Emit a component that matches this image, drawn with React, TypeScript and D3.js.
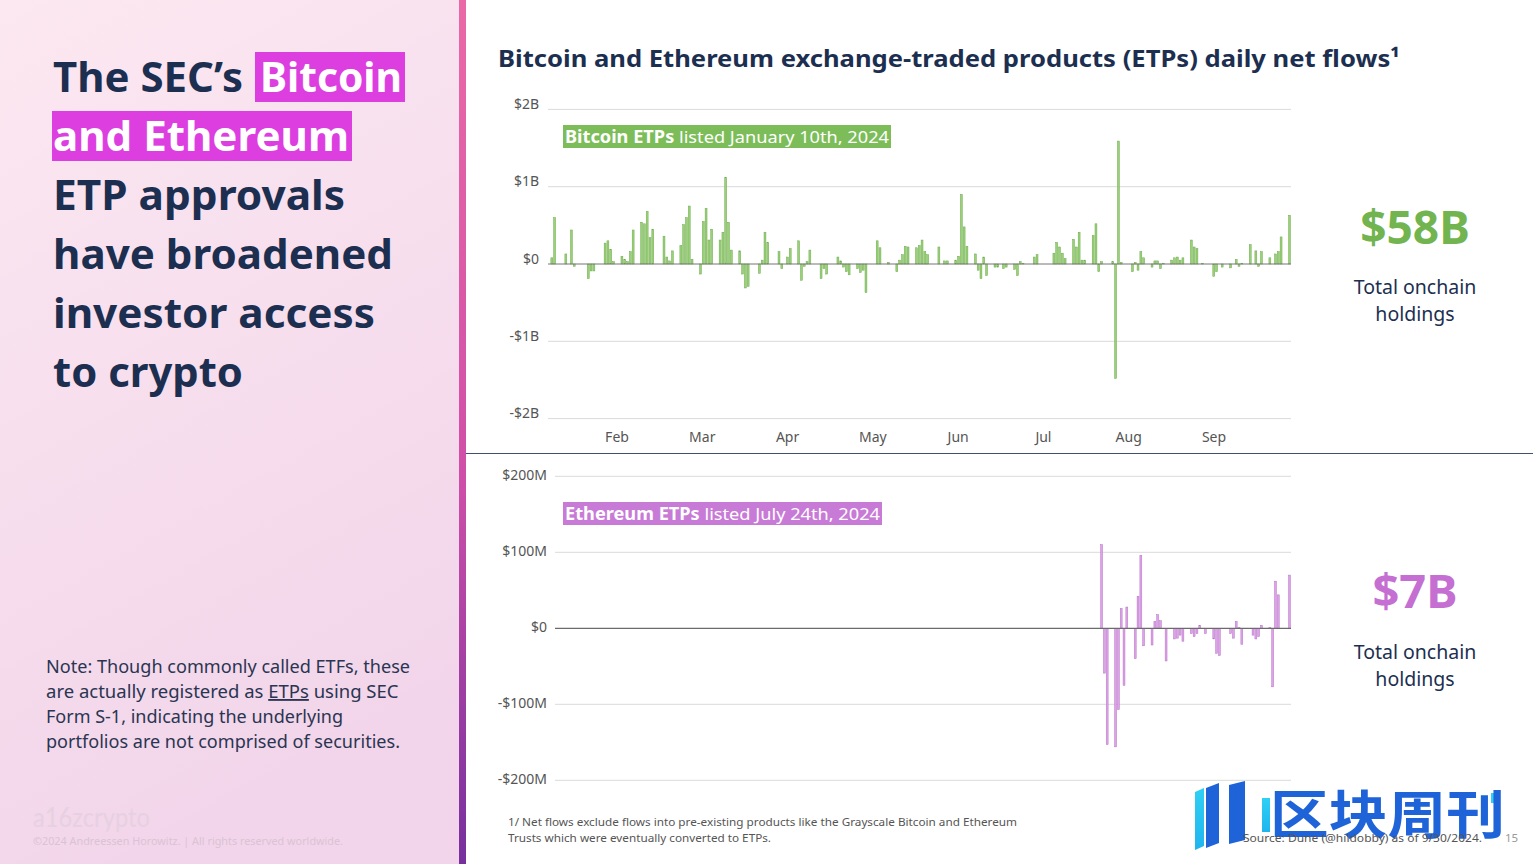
import React from "react";
import * as d3 from "d3";

// ---------- DATA ----------
const btcDates = [
  "2024-01-11","2024-01-12","2024-01-16","2024-01-18","2024-01-19","2024-01-24","2024-01-25","2024-01-26","2024-01-30","2024-01-31",
  "2024-02-01","2024-02-02","2024-02-05","2024-02-06","2024-02-07","2024-02-08","2024-02-09","2024-02-12","2024-02-13","2024-02-14",
  "2024-02-15","2024-02-16","2024-02-20","2024-02-21","2024-02-22","2024-02-23","2024-02-26","2024-02-27","2024-02-28","2024-02-29",
  "2024-03-01","2024-03-04","2024-03-05","2024-03-06","2024-03-07","2024-03-08","2024-03-11","2024-03-12","2024-03-13","2024-03-14",
  "2024-03-15","2024-03-18","2024-03-19","2024-03-20","2024-03-21","2024-03-25","2024-03-26","2024-03-27","2024-03-28","2024-04-01",
  "2024-04-02","2024-04-04","2024-04-05","2024-04-08","2024-04-09","2024-04-10","2024-04-11","2024-04-12","2024-04-16","2024-04-17",
  "2024-04-18","2024-04-22","2024-04-23","2024-04-24","2024-04-25","2024-04-26","2024-04-29","2024-04-30","2024-05-01","2024-05-02",
  "2024-05-06","2024-05-07","2024-05-10","2024-05-13","2024-05-14","2024-05-15","2024-05-16","2024-05-17","2024-05-20","2024-05-21",
  "2024-05-22","2024-05-23","2024-05-24","2024-05-28","2024-05-30","2024-05-31","2024-06-03","2024-06-04","2024-06-05","2024-06-06",
  "2024-06-07","2024-06-10","2024-06-11","2024-06-12","2024-06-13","2024-06-14","2024-06-17","2024-06-18","2024-06-20","2024-06-21",
  "2024-06-24","2024-06-25","2024-06-26","2024-06-27","2024-07-01","2024-07-02","2024-07-08","2024-07-09","2024-07-10","2024-07-11",
  "2024-07-12","2024-07-15","2024-07-16","2024-07-17","2024-07-18","2024-07-19","2024-07-22","2024-07-23","2024-07-24","2024-07-25",
  "2024-07-29","2024-07-30","2024-07-31","2024-08-01","2024-08-05","2024-08-06","2024-08-07","2024-08-08","2024-08-09","2024-08-12",
  "2024-08-13","2024-08-14","2024-08-15","2024-08-16","2024-08-19","2024-08-20","2024-08-21","2024-08-22","2024-08-23","2024-08-26",
  "2024-08-27","2024-08-28","2024-08-30","2024-09-03","2024-09-04","2024-09-06","2024-09-09","2024-09-11","2024-09-12","2024-09-13",
  "2024-09-16","2024-09-18","2024-09-19","2024-09-20","2024-09-23","2024-09-25","2024-09-26","2024-09-27","2024-09-30",
];
// $ billions
const btcFlows = [
  0.08,0.60,0.13,0.44,-0.03,-0.19,-0.09,-0.09,0.27,0.30,
  0.19,0.03,0.10,0.06,0.03,0.16,0.44,0.54,0.52,0.68,
  0.34,0.45,0.36,0.09,0.04,0.17,0.24,0.51,0.60,0.75,
  0.06,-0.13,0.55,0.72,0.31,0.45,0.31,0.41,1.12,0.54,
  0.18,0.17,-0.13,-0.31,-0.29,-0.12,0.05,0.41,0.28,0.16,
  -0.06,0.09,0.20,0.30,-0.21,-0.03,0.03,0.18,-0.19,-0.06,
  -0.13,0.09,0.04,-0.04,-0.10,-0.14,-0.06,-0.11,-0.08,-0.37,
  0.30,0.21,0.02,-0.10,0.05,0.12,0.23,0.22,0.21,0.24,
  0.31,0.16,0.12,0.22,0.04,0.04,0.05,0.10,0.90,0.48,
  0.23,0.13,-0.08,-0.19,0.09,-0.15,-0.04,-0.04,-0.06,-0.04,
  -0.07,-0.15,0.03,0.01,0.09,0.12,0.14,0.28,0.22,0.14,
  0.07,0.32,0.22,0.41,0.05,0.05,0.37,0.52,-0.10,0.03,
  0.03,-1.48,1.59,0.02,-0.10,0.02,-0.08,0.16,0.08,-0.04,
  0.04,0.04,-0.06,0.01,0.05,0.08,0.09,0.05,0.08,0.31,
  0.22,0.20,0.01,-0.16,-0.10,-0.04,-0.05,0.06,-0.03,0.01,
  0.25,0.17,-0.03,0.16,0.08,0.13,0.16,0.35,0.63,
];

const ethDates = [
  "2024-07-25","2024-07-26","2024-07-27","2024-07-30","2024-07-31","2024-08-01","2024-08-02","2024-08-03","2024-08-06","2024-08-07",
  "2024-08-08","2024-08-09","2024-08-12","2024-08-13","2024-08-14","2024-08-15","2024-08-17","2024-08-20","2024-08-21","2024-08-22",
  "2024-08-23","2024-08-26","2024-08-27","2024-08-28","2024-08-29","2024-08-31","2024-09-03","2024-09-04","2024-09-05","2024-09-09",
  "2024-09-10","2024-09-11","2024-09-12","2024-09-13","2024-09-17","2024-09-18","2024-09-19","2024-09-20","2024-09-23","2024-09-24",
  "2024-09-25","2024-09-26","2024-09-30",
];
// $ millions
const ethFlows = [
  110,-59,-153,-156,-107,26,-75,28,-40,42,
  96,-23,-22,9,18,10,-43,-14,-13,-9,
  -17,-7,-11,-7,4,-7,-14,-33,-36,-7,
  -13,9,1,-21,-9,-14,-11,4,1,-77,
  62,44,70,
];

const btcTicks = [2, 1, 0, -1, -2];
const btcTickLabels = ["$2B", "$1B", "$0", "-$1B", "-$2B"];
const ethTicks = [200, 100, 0, -100, -200];
const ethTickLabels = ["$200M", "$100M", "$0", "-$100M", "-$200M"];

const titleLines = ["ETP approvals", "have broadened", "investor access", "to crypto"];
const noteLines = [
  "Note: Though commonly called ETFs, these",
  "are actually registered as ",
  "Form S-1, indicating the underlying",
  "portfolios are not comprised of securities.",
];

// ---------- COLORS ----------
const NAVY = "#1c2f50";
const GREEN = "#7cbd59";
const PURPLE = "#c77bd6";
const FONT = "'Noto Sans', 'Open Sans', sans-serif";

export default function App() {
  const parse = d3.utcParse("%Y-%m-%d");
  const x = d3
    .scaleUtc()
    .domain([new Date(Date.UTC(2024, 0, 10)), new Date(Date.UTC(2024, 8, 30))])
    .range([549, 1289.5]);
  const yB = d3.scaleLinear().domain([-2, 2]).range([418.6, 109.4]);
  const yE = d3.scaleLinear().domain([-200, 200]).range([780.3, 476.3]);
  const months = d3.utcMonth.range(new Date(Date.UTC(2024, 1, 1)), new Date(Date.UTC(2024, 9, 1)));
  const fmtMonth = d3.utcFormat("%b");
  const monthPos = d3.scalePoint<string>().domain(months.map((m) => fmtMonth(m))).range([617, 1214]);

  const btc = btcDates.map((d, i) => ({ date: parse(d)!, v: btcFlows[i] }));
  const eth = ethDates.map((d, i) => ({ date: parse(d)!, v: ethFlows[i] }));
  const bw = 1.9;

  return (
    <svg
      width={1536}
      height={864}
      viewBox="0 0 1536 864"
      style={{ position: "absolute", left: 0, top: 0, background: "#fff" }}
      fontFamily={FONT}
    >
      <defs>
        <linearGradient id="leftBg" x1="0" y1="0" x2="0.3" y2="1">
          <stop offset="0" stopColor="#fce8f1" />
          <stop offset="1" stopColor="#f2d5ea" />
        </linearGradient>
        <linearGradient id="sideBar" x1="0" y1="0" x2="0" y2="1">
          <stop offset="0" stopColor="#ea6aa6" />
          <stop offset="0.55" stopColor="#cf4fa8" />
          <stop offset="1" stopColor="#76309e" />
        </linearGradient>
        <linearGradient id="wmCyan" x1="0" y1="0" x2="0" y2="1">
          <stop offset="0" stopColor="#2fd0f5" />
          <stop offset="1" stopColor="#1fb5ee" />
        </linearGradient>
      </defs>

      {/* ---------- LEFT PANEL ---------- */}
      <rect x={0} y={0} width={459} height={864} fill="url(#leftBg)" />
      <rect x={459} y={0} width={7} height={864} fill="url(#sideBar)" />

      <rect x={255} y={52} width={150} height={50} fill="#dc3ee0" />
      <rect x={52} y={111} width={300} height={50} fill="#dc3ee0" />
      <g fontWeight={700} fontSize={42}>
        <text x={53} y={92} fill={NAVY} textLength={190} lengthAdjust="spacingAndGlyphs">The SEC’s</text>
        <text x={260} y={92} fill="#fff" textLength={142} lengthAdjust="spacingAndGlyphs">Bitcoin</text>
        <text x={53} y={151} fill="#fff" textLength={296} lengthAdjust="spacingAndGlyphs">and Ethereum</text>
        {titleLines.map((t, i) => (
          <text
            key={t}
            x={53}
            y={210 + i * 59}
            fill={NAVY}
            textLength={[292, 340, 322, 190][i]}
            lengthAdjust="spacingAndGlyphs"
          >
            {t}
          </text>
        ))}
      </g>

      <g fontSize={18.5} fill="#2a3552">
        <text x={46} y={673} textLength={364} lengthAdjust="spacingAndGlyphs">{noteLines[0]}</text>
        <text x={46} y={698}>
          <tspan>{noteLines[1]}</tspan>
          <tspan textDecoration="underline">ETPs</tspan>
          <tspan> using SEC</tspan>
        </text>
        <text x={46} y={723} textLength={297} lengthAdjust="spacingAndGlyphs">{noteLines[2]}</text>
        <text x={46} y={748} textLength={354} lengthAdjust="spacingAndGlyphs">{noteLines[3]}</text>
      </g>

      <text x={33} y={827} fontSize={26} fill="#e7d1e0" fontFamily="'Lato', sans-serif" textLength={117} lengthAdjust="spacingAndGlyphs">a16zcrypto</text>
      <text x={33} y={845} fontSize={10.5} fill="#dac3d4" textLength={310} lengthAdjust="spacingAndGlyphs">
        ©2024 Andreessen Horowitz.  |  All rights reserved worldwide.
      </text>

      {/* ---------- TITLE ---------- */}
      <text x={498} y={67} fontSize={24} fontWeight={700} fill={NAVY} textLength={902} lengthAdjust="spacingAndGlyphs">
        Bitcoin and Ethereum exchange-traded products (ETPs) daily net flows¹
      </text>

      {/* ---------- TOP CHART (BTC) ---------- */}
      <g>
        {btcTicks.map((t, i) => (
          <g key={t}>
            {t !== 0 && <line x1={548} x2={1291} y1={yB(t)} y2={yB(t)} stroke="#dadada" strokeWidth={1} />}
            <text x={539} y={yB(t) - 4} textAnchor="end" dominantBaseline="middle" fontSize={14} fill="#555">
              {btcTickLabels[i]}
            </text>
          </g>
        ))}
        {btc.map((d, i) => (
          <rect
            key={i}
            x={x(d.date) - bw / 2}
            y={Math.min(yB(d.v), yB(0))}
            width={bw}
            height={Math.max(0.6, Math.abs(yB(d.v) - yB(0)))}
            fill="#9bd07a"
            stroke="#6cab4b"
            strokeWidth={0.5}
          />
        ))}
        <line x1={548} x2={1291} y1={yB(0)} y2={yB(0)} stroke="#777" strokeWidth={1.2} />
        {months.map((m) => (
          <text key={m.toISOString()} x={monthPos(fmtMonth(m))} y={442} textAnchor="middle" fontSize={14} fill="#555">
            {fmtMonth(m)}
          </text>
        ))}

        <rect x={563} y={125} width={328} height={23} fill={GREEN} />
        <text x={565} y={142.5} fontSize={17} fill="#fff" textLength={324} lengthAdjust="spacingAndGlyphs">
          <tspan fontWeight={700}>Bitcoin ETPs</tspan>
          <tspan> listed January 10th, 2024</tspan>
        </text>

        <text x={1415} y={244} textAnchor="middle" fontSize={46} fontWeight={700} fill="#72b450">$58B</text>
        <text x={1415} y={294} textAnchor="middle" fontSize={19.5} fill={NAVY}>Total onchain</text>
        <text x={1415} y={321} textAnchor="middle" fontSize={19.5} fill={NAVY}>holdings</text>
      </g>

      {/* divider */}
      <line x1={466} x2={1533} y1={453.5} y2={453.5} stroke="#3f5070" strokeWidth={1} />

      {/* ---------- BOTTOM CHART (ETH) ---------- */}
      <g>
        {ethTicks.map((t, i) => (
          <g key={t}>
            {t !== 0 && <line x1={555} x2={1291} y1={yE(t)} y2={yE(t)} stroke="#dadada" strokeWidth={1} />}
            <text x={547} y={yE(t)} textAnchor="end" dominantBaseline="middle" fontSize={14} fill="#555">
              {ethTickLabels[i]}
            </text>
          </g>
        ))}
        {eth.map((d, i) => (
          <rect
            key={i}
            x={x(d.date) - bw / 2}
            y={Math.min(yE(d.v), yE(0))}
            width={bw}
            height={Math.max(0.6, Math.abs(yE(d.v) - yE(0)))}
            fill="#dca3e6"
            stroke="#b772c8"
            strokeWidth={0.5}
          />
        ))}
        <line x1={555} x2={1291} y1={yE(0)} y2={yE(0)} stroke="#6b6b6b" strokeWidth={1.2} />

        <rect x={563} y={502} width={319} height={23} fill={PURPLE} />
        <text x={565} y={519.5} fontSize={17} fill="#fff" textLength={315} lengthAdjust="spacingAndGlyphs">
          <tspan fontWeight={700}>Ethereum ETPs</tspan>
          <tspan> listed July 24th, 2024</tspan>
        </text>

        <text x={1415} y={608} textAnchor="middle" fontSize={47} fontWeight={700} fill="#c46fd1">$7B</text>
        <text x={1415} y={659} textAnchor="middle" fontSize={19.5} fill={NAVY}>Total onchain</text>
        <text x={1415} y={686} textAnchor="middle" fontSize={19.5} fill={NAVY}>holdings</text>
      </g>

      {/* ---------- FOOTER ---------- */}
      <g fontSize={11.5} fill="#555">
        <text x={508} y={826} textLength={509} lengthAdjust="spacingAndGlyphs">
          1/ Net flows exclude flows into pre-existing products like the Grayscale Bitcoin and Ethereum
        </text>
        <text x={508} y={842} textLength={263} lengthAdjust="spacingAndGlyphs">
          Trusts which were eventually converted to ETPs.
        </text>
      </g>

      {/* ---------- WATERMARK ---------- */}
      <g>
        <polygon points="1195,792 1204,788 1204,846 1195,850" fill="url(#wmCyan)" />
        <polygon points="1206,788 1219,783 1219,843 1206,848" fill="#1f63d8" />
        <polygon points="1229,785 1245,781 1245,840 1229,844" fill="#1f63d8" />
        <rect x={1262} y={798} width={8} height={34} fill="url(#wmCyan)" />
        <rect x={1491} y={793} width={7} height={10} fill="#2fd0f5" />
        <text x={1270} y={834} fontSize={52} fontWeight={700} fill="#1f63d8" fontFamily="'Noto Sans CJK SC', sans-serif" textLength={235} lengthAdjust="spacingAndGlyphs">
          区块周刊
        </text>
      </g>

      <g fontSize={11.5} fill="#555">
        <text x={1243} y={842} textLength={239} lengthAdjust="spacingAndGlyphs">
          Source: Dune (@hildobby) as of 9/30/2024.
        </text>
        <text x={1505} y={842} fill="#999">15</text>
      </g>
    </svg>
  );
}
